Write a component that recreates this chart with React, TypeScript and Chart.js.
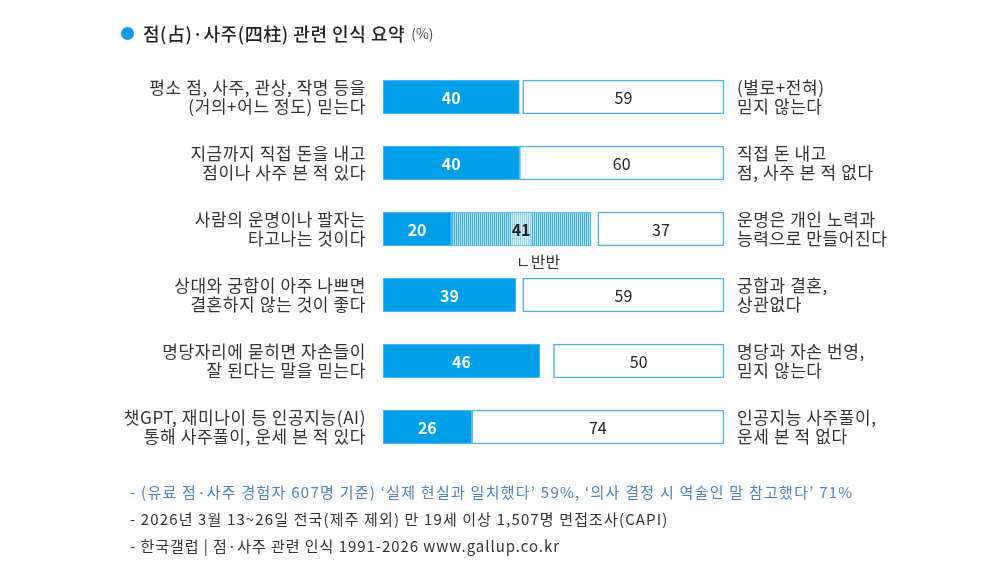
import React, { useEffect, useRef } from 'react';
import { Chart, registerables } from 'chart.js';

Chart.register(...registerables);

const leftLabels = [
  ['평소 점, 사주, 관상, 작명 등을', '(거의+어느 정도) 믿는다'],
  ['지금까지 직접 돈을 내고', '점이나 사주 본 적 있다'],
  ['사람의 운명이나 팔자는', '타고나는 것이다'],
  ['상대와 궁합이 아주 나쁘면', '결혼하지 않는 것이 좋다'],
  ['명당자리에 묻히면 자손들이', '잘 된다는 말을 믿는다'],
  ['챗GPT, 재미나이 등 인공지능(AI)', '통해 사주풀이, 운세 본 적 있다'],
];
const rightLabels = [
  ['(별로+전혀)', '믿지 않는다'],
  ['직접 돈 내고', '점, 사주 본 적 없다'],
  ['운명은 개인 노력과', '능력으로 만들어진다'],
  ['궁합과 결혼,', '상관없다'],
  ['명당과 자손 번영,', '믿지 않는다'],
  ['인공지능 사주풀이,', '운세 본 적 없다'],
];
const agreeValues = [40, 40, 20, 39, 46, 26];
const halfValues = [0, 0, 41, 0, 0, 0];
const noAnswerValues = [1, 0, 2, 2, 4, 0];
const disagreeValues = [59, 60, 37, 59, 50, 74];
const halfNote = 'ㄴ반반';

const FONT = '"Noto Sans CJK KR", "Noto Sans", sans-serif';

function makeHatch(): CanvasPattern | string {
  const c = document.createElement('canvas');
  c.width = 2;
  c.height = 4;
  const g = c.getContext('2d');
  if (!g) return '#7cc8f4';
  g.fillStyle = '#b8e3fb';
  g.fillRect(0, 0, 2, 4);
  g.fillStyle = '#38acec';
  g.fillRect(0, 0, 1, 4);
  const ctx = document.createElement('canvas').getContext('2d');
  return ctx ? (ctx.createPattern(c, 'repeat') as CanvasPattern) : '#7cc8f4';
}

const spacingPlugin = {
  id: 'spacing',
  beforeDraw(chart: any) {
    (chart.ctx as any).letterSpacing = '0.6px';
  },
  beforeDatasetsDraw(chart: any) {
    (chart.ctx as any).letterSpacing = '0px';
  },
  afterDraw(chart: any) {
    (chart.ctx as any).letterSpacing = '0px';
  },
};

const labelPlugin = {
  id: 'barLabels',
  afterDatasetsDraw(chart: any) {
    const ctx = chart.ctx as CanvasRenderingContext2D;
    ctx.save();
    (ctx as any).letterSpacing = '0px';
    ctx.textAlign = 'center';
    ctx.textBaseline = 'middle';
    chart.data.datasets.forEach((ds: any, di: number) => {
      if (di === 2) return;
      const meta = chart.getDatasetMeta(di);
      meta.data.forEach((el: any, i: number) => {
        const v = ds.data[i];
        if (!v) return;
        const cx = (el.x + el.base) / 2;
        if (di === 1) {
          ctx.fillStyle = 'rgba(255,255,255,0.45)';
          ctx.fillRect(cx - 10, el.y - el.height / 2 + 1, 20, el.height - 2);
        }
        if (di === 0) {
          ctx.font = `bold 16px ${FONT}`;
          ctx.fillStyle = '#ffffff';
        } else if (di === 1) {
          ctx.font = `bold 16px ${FONT}`;
          ctx.fillStyle = '#222222';
        } else {
          ctx.font = `16px ${FONT}`;
          ctx.fillStyle = '#222222';
        }
        ctx.fillText(String(v), cx, el.y + 1);
      });
    });
    const idx = halfValues.findIndex((v) => v > 0);
    if (idx >= 0) {
      const el = chart.getDatasetMeta(1).data[idx];
      ctx.textAlign = 'left';
      ctx.font = `16px ${FONT}`;
      ctx.fillStyle = '#333333';
      ctx.fillText(halfNote, (el.x + el.base) / 2 - 5, el.y + el.height / 2 + 16);
    }
    ctx.restore();
  },
};

export default function App() {
  const ref = useRef<HTMLCanvasElement>(null);
  useEffect(() => {
    if (!ref.current) return;
    const hatch = makeHatch();
    const tickFont = { family: FONT, size: 17, lineHeight: 1.08 };
    const chart = new Chart(ref.current, {
      type: 'bar',
      data: {
        labels: leftLabels,
        datasets: [
          {
            label: 'agree',
            data: agreeValues,
            backgroundColor: '#009fe8',
            borderColor: '#5cc0f3',
            borderWidth: 1,
            borderSkipped: false,
            barThickness: 34,
          },
          {
            label: 'half',
            data: halfValues,
            backgroundColor: hatch as any,
            borderColor: '#5cc0f3',
            borderWidth: 1,
            borderSkipped: false,
            barThickness: 34,
          },
          {
            label: 'none',
            data: noAnswerValues,
            backgroundColor: 'rgba(0,0,0,0)',
            borderWidth: 0,
            barThickness: 34,
          },
          {
            label: 'disagree',
            data: disagreeValues,
            backgroundColor: '#ffffff',
            borderColor: '#40b0ef',
            borderWidth: 1.5,
            borderSkipped: false,
            barThickness: 34,
          },
        ],
      },
      options: {
        indexAxis: 'y',
        responsive: false,
        animation: false,
        events: [],
        layout: { padding: { left: 0, right: 0, top: 64, bottom: 104 } },
        plugins: { legend: { display: false }, tooltip: { enabled: false } },
        scales: {
          x: { stacked: true, min: 0, max: 100, display: false },
          y: {
            stacked: true,
            position: 'left',
            grid: { display: false },
            border: { display: false },
            ticks: { color: '#333333', padding: 9, font: tickFont },
            afterFit: (s: any) => {
              s.width = 383;
            },
          },
          y2: {
            type: 'category',
            labels: rightLabels as any,
            position: 'right',
            offset: true,
            grid: { display: false },
            border: { display: false },
            ticks: { color: '#333333', padding: 5, font: tickFont },
            afterFit: (s: any) => {
              s.width = 269;
            },
          },
        },
      },
      plugins: [spacingPlugin, labelPlugin],
    });
    return () => chart.destroy();
  }, []);

  const footStyle: React.CSSProperties = {
    position: 'absolute',
    left: 130,
    fontFamily: FONT,
    fontSize: 15,
    letterSpacing: '0.95px',
    lineHeight: '18px',
    whiteSpace: 'nowrap',
    color: '#333',
  };

  return (
    <div style={{ position: 'fixed', left: 0, top: 0, width: 993, height: 564, background: '#fff', overflow: 'hidden' }}>
      <canvas ref={ref} width={993} height={564} style={{ position: 'absolute', left: 0, top: 0 }} />
      <div
        style={{
          position: 'absolute',
          left: 121,
          top: 20,
          display: 'flex',
          alignItems: 'center',
          fontFamily: FONT,
          whiteSpace: 'nowrap',
          color: '#222',
        }}
      >
        <span style={{ width: 13, height: 13, borderRadius: '50%', background: '#0a9ae8', display: 'inline-block', marginRight: 9 }} />
        <span style={{ fontSize: 18, fontWeight: 500, letterSpacing: '0.55px' }}>점(占)·사주(四柱) 관련 인식 요약</span>
        <span style={{ fontSize: 14, color: '#555', marginLeft: 6 }}>(%)</span>
      </div>
      <div style={{ ...footStyle, top: 483, color: '#4a80c6', letterSpacing: '1.25px' }}>
        - (유료 점·사주 경험자 607명 기준) ‘실제 현실과 일치했다’ 59%, ‘의사 결정 시 역술인 말 참고했다’ 71%
      </div>
      <div style={{ ...footStyle, top: 510, letterSpacing: '1.13px' }}>
        - 2026년 3월 13~26일 전국(제주 제외) 만 19세 이상 1,507명 면접조사(CAPI)
      </div>
      <div style={{ ...footStyle, top: 537 }}>- 한국갤럽 | 점·사주 관련 인식 1991-2026 www.gallup.co.kr</div>
    </div>
  );
}
